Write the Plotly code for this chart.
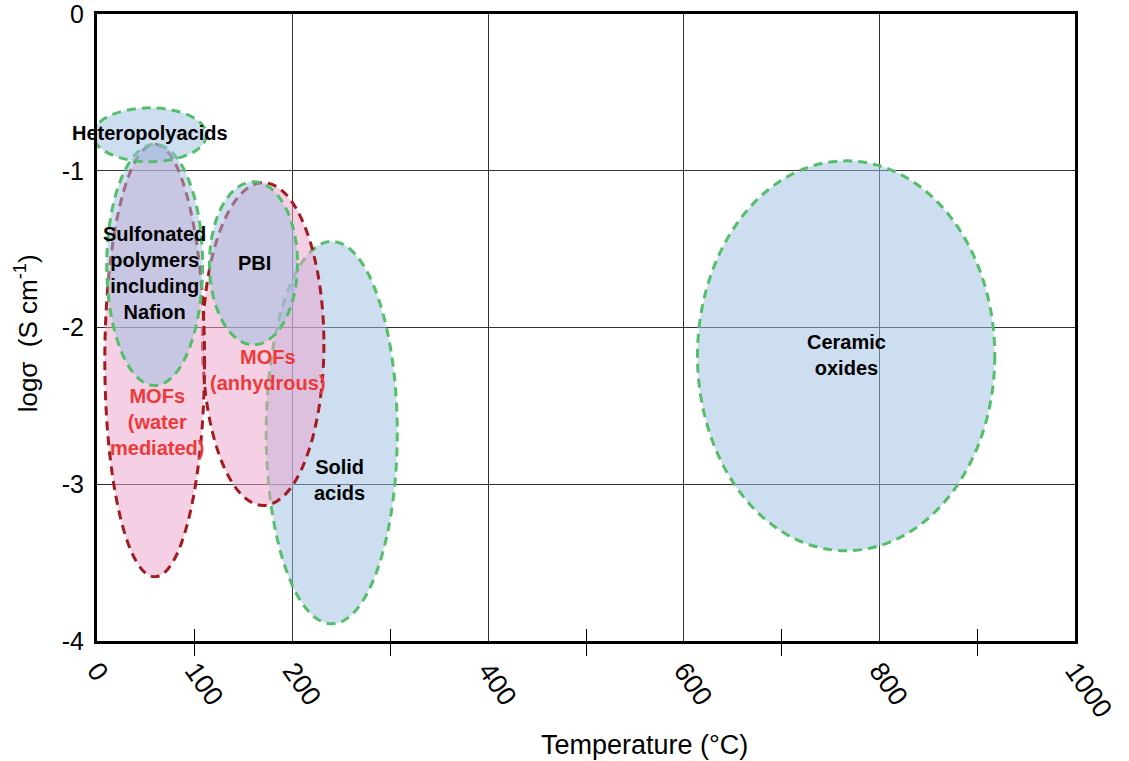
import plotly.graph_objects as go

# ---- data ----
region_names = ["Solid acids", "MOFs (anhydrous)", "MOFs (water mediated)",
                "Sulfonated polymers including Nafion", "PBI", "Heteropolyacids",
                "Ceramic oxides"]
center_T = [240, 170, 59, 59, 160, 54, 766]
center_logs = [-2.67, -2.105, -2.21, -1.60, -1.59, -0.77, -2.18]
half_T = [67, 62, 51, 49, 45, 58, 152]
half_logs = [1.22, 1.03, 1.38, 0.77, 0.52, 0.172, 1.244]
region_group = ["ceramic", "mof", "mof", "ceramic", "ceramic", "ceramic", "ceramic"]

label_texts = ["Heteropolyacids", "Sulfonated<br>polymers<br>including<br>Nafion", "PBI",
               "MOFs<br>(anhydrous)", "MOFs<br>(water<br>mediated)", "Solid<br>acids",
               "Ceramic<br>oxides"]
label_T = [54, 59, 161.5, 175, 61, 248, 766]
label_logs = [-0.76, -1.65, -1.59, -2.27, -2.60, -2.97, -2.175]
label_group = ["ceramic", "ceramic", "ceramic", "mof", "mof", "ceramic", "ceramic"]

x_tick_vals = [0, 100, 200, 400, 600, 800, 1000]
x_tick_text = ["0", "100", "200", "400", "600", "800", "1000"]
x_grid_vals = [200, 400, 600, 800]
x_minor_vals = [100, 300, 500, 700, 900]
y_tick_vals = [0, -1, -2, -3, -4]
y_tick_text = ["0", "-1", "-2", "-3", "-4"]

# ---- styles ----
FONT = "Liberation Sans, Arial, sans-serif"
style = {
    "ceramic": dict(line="rgb(85,190,105)", fill="rgba(155,189,225,0.5)"),
    "mof": dict(line="rgb(160,28,32)", fill="rgba(235,161,201,0.5)"),
}
text_color = {"ceramic": "black", "mof": "rgb(236,58,58)"}

fig = go.Figure()
# invisible traces so that both x axes exist
fig.add_trace(go.Scatter(x=[0, 1000], y=[0, -4], mode="markers",
                         marker=dict(opacity=0), showlegend=False, hoverinfo="skip"))
fig.add_trace(go.Scatter(x=[0, 1000], y=[0, -4], mode="markers", xaxis="x2",
                         marker=dict(opacity=0), showlegend=False, hoverinfo="skip"))

for cx, cy, a, b, g in zip(center_T, center_logs, half_T, half_logs, region_group):
    fig.add_shape(type="circle", xref="x", yref="y",
                  x0=cx - a, x1=cx + a, y0=cy - b, y1=cy + b,
                  fillcolor=style[g]["fill"],
                  line=dict(color=style[g]["line"], width=3, dash="9px,6px"))

for t, x, y, g in zip(label_texts, label_T, label_logs, label_group):
    fig.add_annotation(x=x, y=y, xref="x", yref="y", text=t, showarrow=False,
                       font=dict(family=FONT, size=20, color=text_color[g], weight="bold"),
                       align="center", xanchor="center", yanchor="middle")

fig.add_annotation(xref="paper", yref="paper", x=0.56, y=-0.166,
                   text="Temperature (°C)", showarrow=False,
                   font=dict(family=FONT, size=27, color="black"),
                   xanchor="center", yanchor="middle")
fig.add_annotation(xref="paper", yref="paper", x=-0.072, y=0.49,
                   text="logσ  (S cm<sup>-1</sup>)", showarrow=False, textangle=-90,
                   font=dict(family=FONT, size=26, color="black"),
                   xanchor="center", yanchor="middle")

fig.update_layout(
    width=1129, height=761,
    margin=dict(l=97, r=54, t=14, b=120, autoexpand=False),
    paper_bgcolor="white", plot_bgcolor="white",
    showlegend=False,
    xaxis=dict(range=[0, 1000], tickmode="array", tickvals=x_tick_vals, ticktext=x_tick_text,
               tickangle=55, ticks="", showgrid=False, zeroline=False, automargin=False,
               showline=True, linecolor="black", linewidth=3, mirror=True,
               tickfont=dict(family=FONT, size=27, color="black"),
               minor=dict(tickmode="array", tickvals=x_minor_vals, ticks="outside",
                          ticklen=12, tickcolor="black", tickwidth=1, showgrid=False)),
    xaxis2=dict(range=[0, 1000], overlaying="x", anchor="y", side="bottom", automargin=False,
                tickmode="array", tickvals=x_grid_vals, showticklabels=False, ticks="",
                showgrid=True, gridcolor="rgb(50,50,50)", gridwidth=1, zeroline=False,
                minor=dict(tickmode="array", tickvals=x_minor_vals, ticks="inside",
                           ticklen=12, tickcolor="black", tickwidth=1, showgrid=False)),
    yaxis=dict(range=[-4, 0.001], tickmode="array", tickvals=y_tick_vals, ticktext=y_tick_text,
               ticks="", showgrid=True, gridcolor="rgb(50,50,50)", gridwidth=1, automargin=False,
               zeroline=False, showline=True, linecolor="black", linewidth=3, mirror=True,
               ticklabelstandoff=5, ticklabeloverflow="allow",
               tickfont=dict(family=FONT, size=25, color="black")),
)

fig.write_html("out.html")
